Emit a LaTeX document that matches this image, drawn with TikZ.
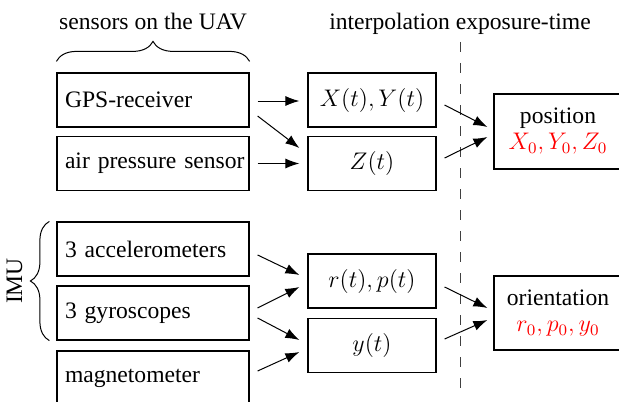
\documentclass[tikz,border=0pt]{standalone}
\usepackage{fontspec}
\setmainfont{Liberation Serif}
\usetikzlibrary{arrows.meta,calc,decorations.pathreplacing}
\begin{document}
\begin{tikzpicture}[x=0.5pt,y=-0.5pt,
  font=\fontsize{11.8pt}{14pt}\selectfont,
  sensor/.style={draw,line width=0.6pt,minimum width=96pt,minimum height=27pt,
    text width=88pt,align=left,inner xsep=4pt},
  signal/.style={draw,line width=0.6pt,minimum width=64pt,minimum height=27pt},
  result/.style={draw,line width=0.6pt,minimum width=64pt,align=center,inner sep=0pt},
  flow/.style={line width=0.5pt,-{Latex[length=7pt,width=5pt]}},
  grouping/.style={decorate,line width=0.5pt,decoration={brace,amplitude=#1}}]
\path[use as bounding box,clip] (0,0) rectangle (619,401);

% headings
\node[anchor=base] (hsens) at (153,30) {sensors on the UAV};
\node[anchor=base] (hint) at (460,30) {interpolation exposure-time};

% sensors
\node[sensor] (gps) at (153,100) {\mbox{GPS-receiver}};
\node[sensor] (air) at (153,163.5) {\mbox{air pressure sensor}};
\node[sensor] (acc) at (153,249) {\mbox{3 accelerometers}};
\node[sensor] (gyr) at (153,313) {\mbox{3 gyroscopes}};
\node[sensor] (mag) at (153,378) {\mbox{magnetometer}};

% interpolated signals
\node[signal] (xy) at (372,100) {$X(t),Y(t)$};
\node[signal] (z) at (372,163.5) {$Z(t)$};
\node[signal] (rp) at (372,281) {$r(t),p(t)$};
\node[signal] (yw) at (372,345.5) {$y(t)$};

% values at exposure time
\node[result,minimum height=37.5pt] (pos) at (558,131.5)
  {position\\[-1pt]\textcolor{red}{$X_0,Y_0,Z_0$}};
\node[result,minimum height=37pt] (ori) at (558,313)
  {orientation\\[-1pt]\textcolor{red}{$r_0,p_0,y_0$}};

% exposure-time separator
\coordinate (septop) at (460,42);
\coordinate (sepbot) at (460,394);
\draw[line width=0.5pt,black!75,dash pattern=on 5pt off 5.5pt] (septop) -- (sepbot);

% braces
\draw[grouping=10pt] ($(gps.north west)+(0,-11)$) -- ($(gps.north east)+(0,-11)$);
\draw[grouping=9.5pt] ($(gyr.south west)+(-7,0)$) -- ($(acc.north west)+(-7,0)$)
  node[midway,left=10pt,rotate=90,anchor=south] (imu) {IMU};

% connectors
\draw[flow] ($(gps.east)+(8,1)$) -- ($(xy.west)+(-8,1)$);
\draw[flow] ($(gps.east)+(8,16)$) -- ($(z.west)+(-8,-15.5)$);
\draw[flow] ($(air.east)+(8,0)$) -- ($(z.west)+(-8,0)$);
\draw[flow] ($(acc.east)+(8,6)$) -- ($(rp.west)+(-8,-6)$);
\draw[flow] ($(gyr.east)+(8,-5)$) -- ($(rp.west)+(-8,6)$);
\draw[flow] ($(gyr.east)+(8,5)$) -- ($(yw.west)+(-8,-5.5)$);
\draw[flow] ($(mag.east)+(8,-7)$) -- ($(yw.west)+(-8,6.5)$);
\draw[flow] ($(xy.east)+(8,5)$) -- ($(pos.west)+(-6,-4.5)$);
\draw[flow] ($(z.east)+(8,-5.5)$) -- ($(pos.west)+(-6,5.5)$);
\draw[flow] ($(rp.east)+(8,6)$) -- ($(ori.west)+(-6,-5)$);
\draw[flow] ($(yw.east)+(8,-6.5)$) -- ($(ori.west)+(-6,7)$);
\end{tikzpicture}
\end{document}
